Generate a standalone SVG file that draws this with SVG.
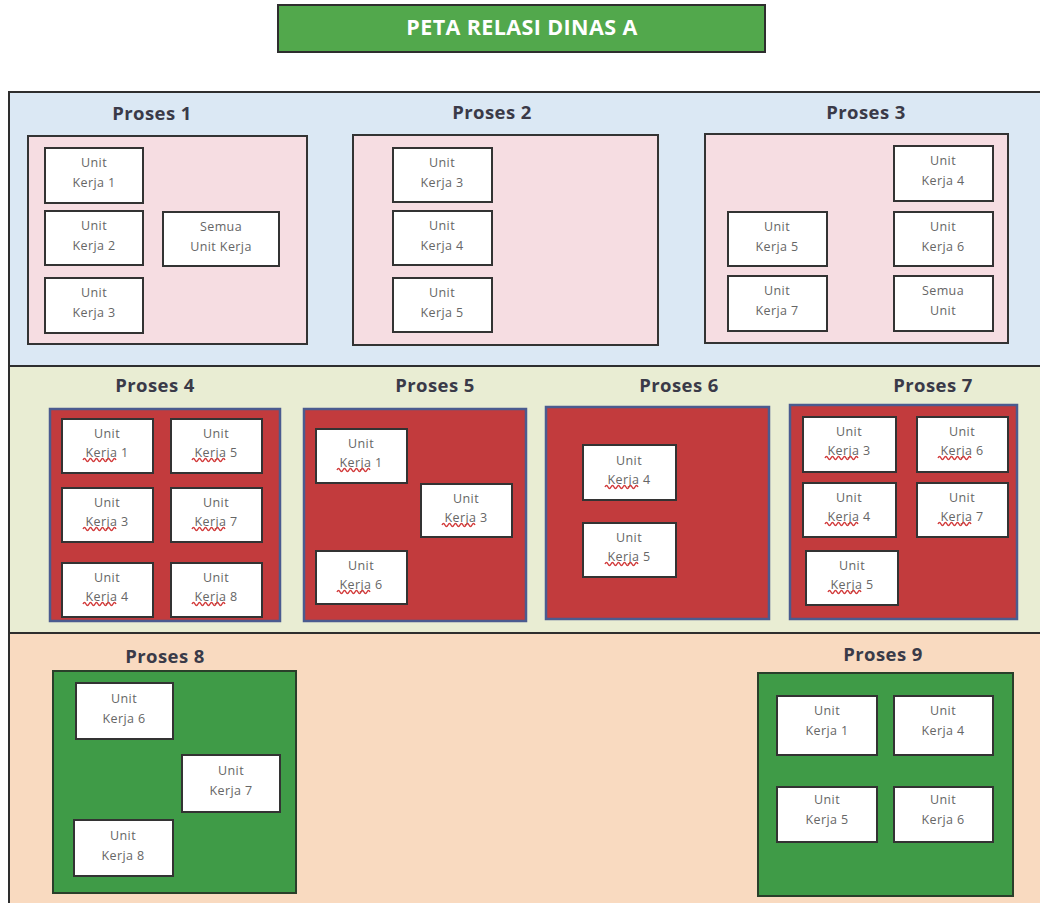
<svg xmlns="http://www.w3.org/2000/svg" width="1040" height="903" viewBox="0 0 1040 903">
<style>
.band{stroke:#2e2e2e;stroke-width:2}
.pink{fill:#f6dde2;stroke:#333;stroke-width:2}
.red{fill:#c23b3d;stroke:#4b5b8f;stroke-width:2.5}
.green{fill:#3f9b47;stroke:#2a3f2a;stroke-width:2}
.unit{fill:#ffffff;stroke:#333;stroke-width:2}
.pt{font-family:"Open Sans","Liberation Sans",sans-serif;font-weight:bold;font-size:18.5px;fill:#3a3a48;text-anchor:middle;letter-spacing:0.4px}
.ut{font-family:"Open Sans","Liberation Sans",sans-serif;font-size:12.5px;fill:#666;text-anchor:middle;letter-spacing:0.4px}
.wave{fill:none;stroke:#d23a3a;stroke-width:1.4}
</style>
<defs>
<path id="wv" d="M0,0 q1.5,-3 3,0 t3,0 t3,0 t3,0 t3,0 t3,0 t3,0 t3,0 t3,0 t3,0 t3,0"/>
</defs>
<rect width="1040" height="903" fill="#ffffff"/>

<g id="title">
<rect x="278" y="5" width="487" height="47" fill="#52a84c" stroke="#2e2e2e" stroke-width="2"/>
<text x="522" y="35" font-family="'Open Sans','Liberation Sans',sans-serif" font-weight="bold" font-size="21.5" letter-spacing="0.4" fill="#ffffff" text-anchor="middle">PETA RELASI DINAS A</text>
</g>

<g id="band1"><rect class="band" x="9" y="92" width="1040" height="274" fill="#dbe8f4"/></g>
<g id="band2"><rect class="band" x="9" y="366" width="1040" height="267" fill="#e9edd3"/></g>
<g id="band3"><rect class="band" x="9" y="633" width="1040" height="275" fill="#f9dac0"/></g>

<g id="connectors"></g>

<!-- Proses 1 -->
<g id="proses1">
<text class="pt" x="152" y="120">Proses 1</text>
<rect class="pink" x="28" y="136" width="279" height="208"/>
<g id="p1-uk1"><rect class="unit" x="45" y="148" width="98" height="55"/><text class="ut" x="94" y="167">Unit</text><text class="ut" x="94" y="187">Kerja 1</text></g>
<g id="p1-uk2"><rect class="unit" x="45" y="211" width="98" height="54"/><text class="ut" x="94" y="230">Unit</text><text class="ut" x="94" y="250">Kerja 2</text></g>
<g id="p1-uk3"><rect class="unit" x="45" y="278" width="98" height="55"/><text class="ut" x="94" y="297">Unit</text><text class="ut" x="94" y="317">Kerja 3</text></g>
<g id="p1-semua"><rect class="unit" x="163" y="212" width="116" height="54"/><text class="ut" x="221" y="231">Semua</text><text class="ut" x="221" y="251">Unit Kerja</text></g>
</g>

<!-- Proses 2 -->
<g id="proses2">
<text class="pt" x="492" y="119">Proses 2</text>
<rect class="pink" x="353" y="135" width="305" height="210"/>
<g id="p2-uk3"><rect class="unit" x="393" y="148" width="99" height="54"/><text class="ut" x="442" y="167">Unit</text><text class="ut" x="442" y="187">Kerja 3</text></g>
<g id="p2-uk4"><rect class="unit" x="393" y="211" width="99" height="54"/><text class="ut" x="442" y="230">Unit</text><text class="ut" x="442" y="250">Kerja 4</text></g>
<g id="p2-uk5"><rect class="unit" x="393" y="278" width="99" height="54"/><text class="ut" x="442" y="297">Unit</text><text class="ut" x="442" y="317">Kerja 5</text></g>
</g>

<!-- Proses 3 -->
<g id="proses3">
<text class="pt" x="866" y="119">Proses 3</text>
<rect class="pink" x="705" y="134" width="303" height="209"/>
<g id="p3-uk4"><rect class="unit" x="894" y="146" width="99" height="55"/><text class="ut" x="943" y="165">Unit</text><text class="ut" x="943" y="185">Kerja 4</text></g>
<g id="p3-uk6"><rect class="unit" x="894" y="212" width="99" height="54"/><text class="ut" x="943" y="231">Unit</text><text class="ut" x="943" y="251">Kerja 6</text></g>
<g id="p3-semua"><rect class="unit" x="894" y="276" width="99" height="55"/><text class="ut" x="943" y="295">Semua</text><text class="ut" x="943" y="315">Unit</text></g>
<g id="p3-uk5"><rect class="unit" x="728" y="212" width="99" height="54"/><text class="ut" x="777" y="231">Unit</text><text class="ut" x="777" y="251">Kerja 5</text></g>
<g id="p3-uk7"><rect class="unit" x="728" y="276" width="99" height="55"/><text class="ut" x="777" y="295">Unit</text><text class="ut" x="777" y="315">Kerja 7</text></g>
</g>

<!-- Proses 4 -->
<g id="proses4">
<text class="pt" x="155" y="392">Proses 4</text>
<rect class="red" x="50" y="409" width="230" height="212"/>
<g id="p4-uk1"><rect class="unit" x="62" y="419" width="91" height="54"/><text class="ut" x="107" y="438">Unit</text><text class="ut" x="107" y="457">Kerja 1</text><use href="#wv" class="wave" x="83" y="460"/></g>
<g id="p4-uk5"><rect class="unit" x="171" y="419" width="91" height="54"/><text class="ut" x="216" y="438">Unit</text><text class="ut" x="216" y="457">Kerja 5</text><use href="#wv" class="wave" x="192" y="460"/></g>
<g id="p4-uk3"><rect class="unit" x="62" y="488" width="91" height="54"/><text class="ut" x="107" y="507">Unit</text><text class="ut" x="107" y="526">Kerja 3</text><use href="#wv" class="wave" x="83" y="529"/></g>
<g id="p4-uk7"><rect class="unit" x="171" y="488" width="91" height="54"/><text class="ut" x="216" y="507">Unit</text><text class="ut" x="216" y="526">Kerja 7</text><use href="#wv" class="wave" x="192" y="529"/></g>
<g id="p4-uk4"><rect class="unit" x="62" y="563" width="91" height="54"/><text class="ut" x="107" y="582">Unit</text><text class="ut" x="107" y="601">Kerja 4</text><use href="#wv" class="wave" x="83" y="604"/></g>
<g id="p4-uk8"><rect class="unit" x="171" y="563" width="91" height="54"/><text class="ut" x="216" y="582">Unit</text><text class="ut" x="216" y="601">Kerja 8</text><use href="#wv" class="wave" x="192" y="604"/></g>
</g>

<!-- Proses 5 -->
<g id="proses5">
<text class="pt" x="435" y="392">Proses 5</text>
<rect class="red" x="304" y="409" width="222" height="212"/>
<g id="p5-uk1"><rect class="unit" x="316" y="429" width="91" height="54"/><text class="ut" x="361" y="448">Unit</text><text class="ut" x="361" y="467">Kerja 1</text><use href="#wv" class="wave" x="337" y="470"/></g>
<g id="p5-uk3"><rect class="unit" x="421" y="484" width="91" height="53"/><text class="ut" x="466" y="503">Unit</text><text class="ut" x="466" y="522">Kerja 3</text><use href="#wv" class="wave" x="442" y="525"/></g>
<g id="p5-uk6"><rect class="unit" x="316" y="551" width="91" height="53"/><text class="ut" x="361" y="570">Unit</text><text class="ut" x="361" y="589">Kerja 6</text><use href="#wv" class="wave" x="337" y="592"/></g>
</g>

<!-- Proses 6 -->
<g id="proses6">
<text class="pt" x="679" y="392">Proses 6</text>
<rect class="red" x="546" y="407" width="223" height="212"/>
<g id="p6-uk4"><rect class="unit" x="583" y="445" width="93" height="55"/><text class="ut" x="629" y="465">Unit</text><text class="ut" x="629" y="484">Kerja 4</text><use href="#wv" class="wave" x="605" y="487"/></g>
<g id="p6-uk5"><rect class="unit" x="583" y="523" width="93" height="54"/><text class="ut" x="629" y="542">Unit</text><text class="ut" x="629" y="561">Kerja 5</text><use href="#wv" class="wave" x="605" y="564"/></g>
</g>

<!-- Proses 7 -->
<g id="proses7">
<text class="pt" x="933" y="392">Proses 7</text>
<rect class="red" x="790" y="405" width="227" height="214"/>
<g id="p7-uk3"><rect class="unit" x="803" y="417" width="93" height="55"/><text class="ut" x="849" y="436">Unit</text><text class="ut" x="849" y="455">Kerja 3</text><use href="#wv" class="wave" x="825" y="458"/></g>
<g id="p7-uk6"><rect class="unit" x="917" y="417" width="91" height="55"/><text class="ut" x="962" y="436">Unit</text><text class="ut" x="962" y="455">Kerja 6</text><use href="#wv" class="wave" x="938" y="458"/></g>
<g id="p7-uk4"><rect class="unit" x="803" y="483" width="93" height="54"/><text class="ut" x="849" y="502">Unit</text><text class="ut" x="849" y="521">Kerja 4</text><use href="#wv" class="wave" x="825" y="524"/></g>
<g id="p7-uk7"><rect class="unit" x="917" y="483" width="91" height="54"/><text class="ut" x="962" y="502">Unit</text><text class="ut" x="962" y="521">Kerja 7</text><use href="#wv" class="wave" x="938" y="524"/></g>
<g id="p7-uk5"><rect class="unit" x="806" y="551" width="92" height="54"/><text class="ut" x="852" y="570">Unit</text><text class="ut" x="852" y="589">Kerja 5</text><use href="#wv" class="wave" x="828" y="592"/></g>
</g>

<!-- Proses 8 -->
<g id="proses8">
<text class="pt" x="165" y="663">Proses 8</text>
<rect class="green" x="53" y="671" width="243" height="222"/>
<g id="p8-uk6"><rect class="unit" x="76" y="683" width="97" height="56"/><text class="ut" x="124" y="703">Unit</text><text class="ut" x="124" y="723">Kerja 6</text></g>
<g id="p8-uk7"><rect class="unit" x="182" y="755" width="98" height="57"/><text class="ut" x="231" y="775">Unit</text><text class="ut" x="231" y="795">Kerja 7</text></g>
<g id="p8-uk8"><rect class="unit" x="74" y="820" width="99" height="56"/><text class="ut" x="123" y="840">Unit</text><text class="ut" x="123" y="860">Kerja 8</text></g>
</g>

<!-- Proses 9 -->
<g id="proses9">
<text class="pt" x="883" y="661">Proses 9</text>
<rect class="green" x="758" y="673" width="255" height="223"/>
<g id="p9-uk1"><rect class="unit" x="777" y="696" width="100" height="59"/><text class="ut" x="827" y="715">Unit</text><text class="ut" x="827" y="735">Kerja 1</text></g>
<g id="p9-uk4"><rect class="unit" x="894" y="696" width="99" height="59"/><text class="ut" x="943" y="715">Unit</text><text class="ut" x="943" y="735">Kerja 4</text></g>
<g id="p9-uk5"><rect class="unit" x="777" y="787" width="100" height="55"/><text class="ut" x="827" y="804">Unit</text><text class="ut" x="827" y="824">Kerja 5</text></g>
<g id="p9-uk6"><rect class="unit" x="894" y="787" width="99" height="55"/><text class="ut" x="943" y="804">Unit</text><text class="ut" x="943" y="824">Kerja 6</text></g>
</g>
</svg>
